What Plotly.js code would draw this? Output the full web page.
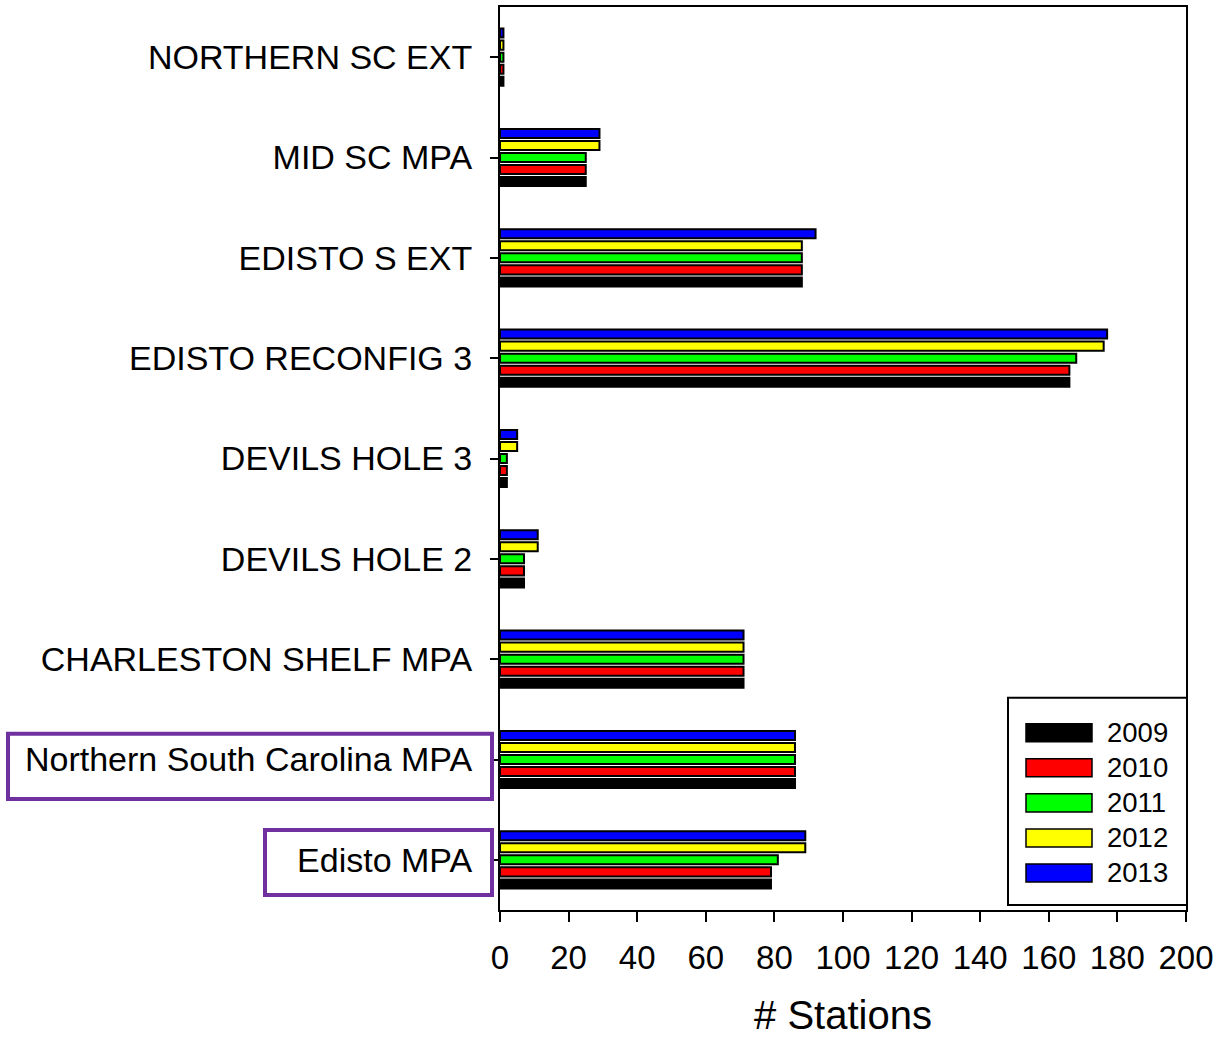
<!DOCTYPE html>
<html>
<head>
<meta charset="utf-8">
<script src="https://cdn.plot.ly/plotly-3.0.1.min.js"></script>
<style>html,body{margin:0;padding:0;background:#fff;}#chart{width:1216px;height:1037px;}</style>
</head>
<body>
<div id="chart"></div>
<script>
const categories = ["Edisto MPA", "Northern South Carolina MPA", "CHARLESTON SHELF MPA", "DEVILS HOLE 2", "DEVILS HOLE 3", "EDISTO RECONFIG 3", "EDISTO S EXT", "MID SC MPA", "NORTHERN SC EXT"];
const years = ["2009", "2010", "2011", "2012", "2013"];
const colors = ["#000000", "#FF0000", "#00FF00", "#FFFF00", "#0000FF"];
const v2009 = [79, 86, 71, 7, 2, 166, 88, 25, 1];
const v2010 = [79, 86, 71, 7, 2, 166, 88, 25, 1];
const v2011 = [81, 86, 71, 7, 2, 168, 88, 25, 1];
const v2012 = [89, 86, 71, 11, 5, 176, 88, 29, 1];
const v2013 = [89, 86, 71, 11, 5, 177, 92, 29, 1];
const series = [v2009, v2010, v2011, v2012, v2013];
const xTicks = [0, 20, 40, 60, 80, 100, 120, 140, 160, 180, 200];
const xTitle = "# Stations";

const traces = series.map((vals, i) => ({
  type: "bar", orientation: "h", name: years[i],
  x: vals, y: categories,
  marker: {color: colors[i], line: {color: "#000000", width: 2}},
  hoverinfo: "x+y"
}));

const font = "Liberation Sans, Arial, sans-serif";
const shapes = [];
const annotations = [];
const W = 686, H = 902;
function px2x(p){ return (p - 500) / W; }
function py2y(p){ return (910 - p) / H; }
shapes.push({type:"rect", xref:"paper", yref:"paper", x0:px2x(8), x1:px2x(492), y0:py2y(799), y1:py2y(734), line:{color:"#7030A0", width:4}});
shapes.push({type:"rect", xref:"paper", yref:"paper", x0:px2x(265), x1:px2x(492), y0:py2y(895), y1:py2y(830), line:{color:"#7030A0", width:4}});
shapes.push({type:"rect", xref:"paper", yref:"paper", x0:px2x(1008), x1:px2x(1187), y0:py2y(905), y1:py2y(698), line:{color:"#000000", width:2}, fillcolor:"#ffffff", layer:"above"});
years.forEach((yr, i) => {
  const cy = 733 + i * 35;
  shapes.push({type:"rect", xref:"paper", yref:"paper", x0:px2x(1026), x1:px2x(1092), y0:py2y(cy+9), y1:py2y(cy-9), line:{color:"#000000", width:1.5}, fillcolor:colors[i], layer:"above"});
  annotations.push({xref:"paper", yref:"paper", x:px2x(1105), y:py2y(cy), xanchor:"left", yanchor:"middle", text:yr, showarrow:false, font:{family:font, size:27.5, color:"#000"}});
});

const layout = {
  width: 1216, height: 1037,
  margin: {l: 500, r: 30, t: 7, b: 127},
  paper_bgcolor: "#ffffff", plot_bgcolor: "#ffffff",
  barmode: "group", bargap: 0.4, bargroupgap: 0.25,
  showlegend: false,
  font: {family: font, color: "#000"},
  xaxis: {
    range: [0, 200], tickvals: xTicks, ticktext: xTicks.map(String),
    ticks: "outside", ticklen: 10, tickwidth: 2, tickcolor: "#000",
    showline: true, linecolor: "#000", linewidth: 2, mirror: true,
    showgrid: false, zeroline: false, ticklabelstandoff: 7,
    tickfont: {family: font, size: 33, color: "#000"},
    title: {text: xTitle, font: {family: font, size: 40, color: "#000"}, standoff: 38}
  },
  yaxis: {
    type: "category", categoryorder: "array", categoryarray: categories,
    range: [-0.5, 8.5],
    ticks: "outside", ticklen: 8, tickwidth: 2, tickcolor: "#000",
    showline: true, linecolor: "#000", linewidth: 2, mirror: true,
    showgrid: false, zeroline: false, ticklabelstandoff: 11,
    tickfont: {family: font, size: 34, color: "#000"}
  },
  shapes: shapes,
  annotations: annotations
};

Plotly.newPlot("chart", traces, layout, {displayModeBar: false, staticPlot: true});
</script>
</body>
</html>
